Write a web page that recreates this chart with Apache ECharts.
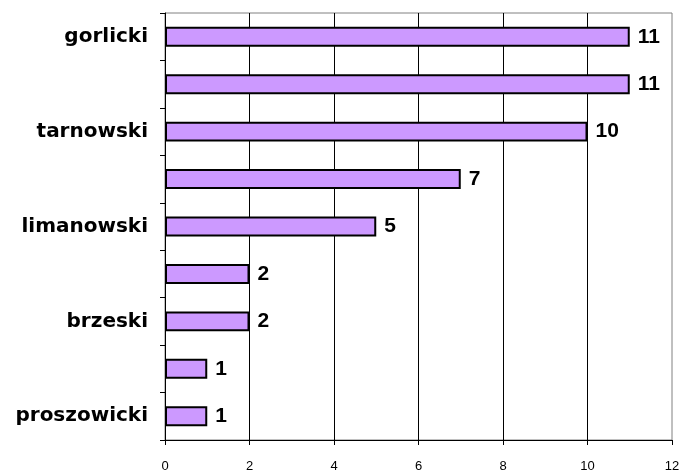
<!DOCTYPE html>
<html>
<head>
<meta charset="utf-8">
<script src="https://cdn.jsdelivr.net/npm/echarts@6/dist/echarts.min.js"></script>
<style>
  html, body { margin: 0; padding: 0; background: #fff; }
  #chart { width: 688px; height: 475px; }
</style>
</head>
<body>
<div id="chart"></div>
<script>
// categories top to bottom; only every other name is printed in the original
const powiaty = ["gorlicki", "nowosądecki", "tarnowski", "dąbrowski", "limanowski",
  "bocheński", "brzeski", "miechowski", "proszowicki"];
const counts = [11, 11, 10, 7, 5, 2, 2, 1, 1];
const xTicks = [0, 2, 4, 6, 8, 10, 12];

let myChart = echarts.init(document.getElementById("chart"));

let option = {
  animation: false,
  grid: {
    left: 165,
    right: 16,
    top: 13,
    bottom: 35,
    show: true,
    borderColor: "#808080",
    borderWidth: 1,
  },
  xAxis: {
    type: "value",
    min: xTicks[0],
    max: xTicks[xTicks.length - 1],
    interval: 2,
    axisLine: { show: true, lineStyle: { color: "#000", width: 1 } },
    axisTick: { show: true, length: 5, lineStyle: { color: "#000" } },
    axisLabel: {
      color: "#000",
      fontSize: 13,
      fontFamily: "Liberation Sans, Arial",
      margin: 20,
    },
    splitLine: {
      show: true,
      showMinLine: false,
      showMaxLine: false,
      lineStyle: { color: "#000", width: 1 },
    },
  },
  yAxis: {
    type: "category",
    inverse: true,
    data: powiaty,
    axisLine: { show: true, lineStyle: { color: "#000", width: 1 } },
    axisTick: { show: true, interval: 0, length: 5, lineStyle: { color: "#000" } },
    axisLabel: {
      interval: 1,
      color: "#000",
      fontSize: 20,
      fontWeight: "bold",
      fontFamily: "DejaVu Sans",
      margin: 17,
    },
  },
  series: [
    {
      type: "bar",
      data: counts,
      barWidth: "42%",
      itemStyle: {
        color: "#cc99ff",
        borderColor: "#000",
        borderWidth: 2,
      },
      label: {
        show: true,
        position: "right",
        distance: 8,
        color: "#000",
        fontSize: 21,
        fontWeight: "bold",
        fontFamily: "Liberation Sans, Arial",
      },
    },
  ],
};
myChart.setOption(option);
</script>
</body>
</html>
